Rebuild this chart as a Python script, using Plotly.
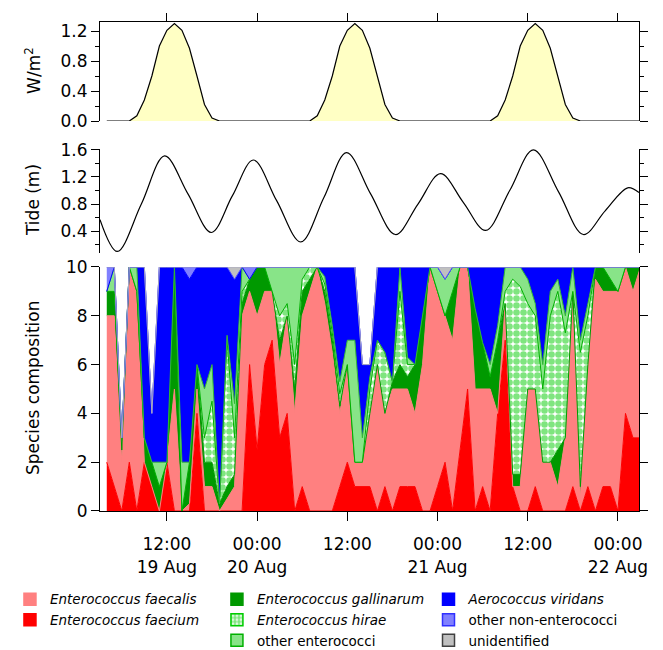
import plotly.graph_objects as go

FONT = "DejaVu Sans"

# ---------------- data ----------------
# sample times: hours since 19 Aug 00:00
hours = list(range(4, 76))

faecium = [2, 1, 0, 2, 0, 2, 1, 0, 2, 0,
           0, 0, 4, 0, 0, 0, 0, 0, 0, 6,
           2.5, 6, 7, 3, 4, 0, 1, 0, 0, 0,
           0, 1, 2, 1, 1, 1, 0, 1, 0, 1,
           1, 1, 0, 0, 1, 2, 0, 2.5, 5, 0,
           1, 0, 4, 7, 1, 0, 0, 1, 0, 0,
           0, 0, 1, 0, 1, 0, 1, 1, 0, 4,
           3, 3]
faecalis = [6, 7, 2, 8, 9, 0, 0, 0, 0, 5,
            0, 0.3, 1, 1, 1, 0, 0.5, 1, 8, 3,
            5.5, 3, 2, 3, 4, 4, 7, 9, 10, 8.5,
            6.5, 3, 4, 1, 1, 3, 6, 3, 5, 4,
            4, 3, 6, 10, 8, 6, 7, 7.5, 5, 5,
            4, 5, 0, 1.5, 0, 1, 5, 4, 2, 2,
            1, 3, 8, 0.5, 5, 9.5, 8, 8, 9, 6,
            6, 7]
gallinarum = [1, 1, 0.5, 0, 0, 1, 1, 1, 0, 5,
              0, 1.7, 1, 1, 1, 0.3, 0.5, 0.5, 0.5, 0.5,
              2, 1, 0, 1, 0, 1, 1, 0.5, 0, 0.5,
              0.5, 0.3, 0, 0, 0, 0, 0, 0, 0.3, 1,
              0.5, 2, 2, 0, 0, 0, 2, 0, 0, 3.3,
              1.9, 0.5, 3, 0, 0.5, 0.5, 0, 0, 0, 0,
              1.5, 0, 0, 0.5, 0, 0.5, 1, 0.5, 0, 0,
              1, 0]
hirae = [0, 0, 0.5, 0, 0, 0, 0, 0, 0, 0,
         0, 0, 0, 1, 2.5, 0, 6, 1.5, 0.5, 0,
         0, 0, 0, 1, 0.5, 1, 0.5, 0.5, 0, 0.3,
         0.3, 0.5, 0, 0, 0, 1, 1, 2.5, 0, 3,
         0.5, 0, 0, 0, 0, 0, 0, 0, 0, 0,
         0, 0, 0, 0.5, 8, 7.7, 3.5, 3, 3, 6,
         6.5, 4.3, 0, 5.5, 2, 0, 0, 0, 0, 0,
         0, 0]
other_entero = [0, 1, 0, 0, 1, 0, 0, 1, 0, 0,
                2, 0, 0, 2, 1.5, 0, 0.2, 1.4, 1, 0,
                0, 0, 1, 2, 1.5, 4, 0.5, 0, 0, 0.3,
                0.3, 0.5, 1, 5, 1, 0.5, 0, 0, 0, 1,
                0.3, 0, 0, 0, 1, 1.5, 1, 0, 0, 0,
                0, 0.5, 0.6, 1, 0.5, 0.8, 1, 0.5, 1, 1,
                0.5, 0.7, 1, 0.5, 0.5, 0, 0, 0.5, 1, 0,
                0, 0]
viridans = [0, 0, 0, 0, 0, 7, 2, 8, 8, 0,
            8, 7.5, 4, 5, 4, 9.7, 2.8, 5.1, 0, 0,
            0, 0, 0, 0, 0, 0, 0, 0, 0, 0.4,
            2.4, 4.7, 3, 3, 3, 0.5, 3, 3.5, 4.7, 0,
            3.7, 4, 2, 0, 0, 0, 0, 0, 0, 1.7,
            3.1, 4, 2.4, 0, 0, 0, 0.5, 1.5, 4, 1,
            0.5, 2, 0, 3, 1.5, 0, 0, 0, 0, 0,
            0, 0]
other_non_entero = [1, 0, 0, 0, 0, 0, 0, 0, 0, 0,
                    0, 0.5, 0, 0, 0, 0, 0, 0, 0, 0.5,
                    0, 0, 0, 0, 0, 0, 0, 0, 0, 0,
                    0, 0, 0, 0, 0, 0, 0, 0, 0, 0,
                    0, 0, 0, 0, 0, 0, 0, 0, 0, 0,
                    0, 0, 0, 0, 0, 0, 0, 0, 0, 0,
                    0, 0, 0, 0, 0, 0, 0, 0, 0, 0,
                    0, 0]
unidentified = [0, 0, 0, 0, 0, 0, 0, 0, 0, 0,
                0, 0, 0, 0, 0, 0, 0, 0.5, 0, 0,
                0, 0, 0, 0, 0, 0, 0, 0, 0, 0,
                0, 0, 0, 0, 0, 0, 0, 0, 0, 0,
                0, 0, 0, 0, 0, 0.5, 0, 0, 0, 0,
                0, 0, 0, 0, 0, 0, 0, 0, 0, 0,
                0, 0, 0, 0, 0, 0, 0, 0, 0, 0,
                0, 0]

light_hours = [4, 7, 8, 9, 10, 11, 12, 13, 14, 15, 16, 17, 18, 19,
               31, 32, 33, 34, 35, 36, 37, 38, 39, 40, 41, 42, 43,
               55, 56, 57, 58, 59, 60, 61, 62, 63, 64, 65, 66, 67, 74.8]
light_wm2 = [0, 0, 0.07, 0.28, 0.6, 1.0, 1.21, 1.3, 1.21, 0.97, 0.6, 0.22, 0.04, 0,
             0, 0.07, 0.28, 0.6, 1.0, 1.21, 1.3, 1.21, 0.97, 0.6, 0.22, 0.04, 0,
             0, 0.07, 0.28, 0.6, 1.0, 1.21, 1.3, 1.21, 0.97, 0.6, 0.22, 0.04, 0, 0]

tide_hours = [3.1, 5.4, 8.6, 11.7, 14.8, 17.9, 20.7, 23.5, 26.6, 29.8, 32.9, 35.9,
              39.1, 42.4, 45.4, 48.4, 51.4, 54.4, 57.6, 60.75, 64.1, 67.4, 70.3, 73.3, 74.8]
tide_m = [0.57, 0.10, 0.80, 1.51, 0.95, 0.38, 0.92, 1.45, 0.85, 0.24, 0.90, 1.56,
          0.95, 0.35, 0.80, 1.25, 0.83, 0.41, 1.00, 1.60, 0.98, 0.35, 0.70, 1.04, 0.97]

tick_hours = [12, 24, 36, 48, 60, 72]
tick_text = ["12:00<br>19 Aug", "00:00<br>20 Aug", "12:00", "00:00<br>21 Aug", "12:00", "00:00<br>22 Aug"]

X_RANGE = [3.1, 74.8]

# name, values, fill colour, line colour, pattern, legend
hirae_pattern = dict(shape=".", fgcolor="#00CC00", bgcolor="white", size=7, solidity=0.7)
species = [
    ("<i>Enterococcus faecium</i>", faecium, "#FF0000", "#FF0000", None, "legend"),
    ("<i>Enterococcus faecalis</i>", faecalis, "#FF8080", "#FF8080", None, "legend"),
    ("<i>Enterococcus gallinarum</i>", gallinarum, "#009900", "#009900", None, "legend2"),
    ("<i>Enterococcus hirae</i>", hirae, "white", "#00B000", hirae_pattern, "legend2"),
    ("other enterococci", other_entero, "#88E488", "#33B833", None, "legend2"),
    ("<i>Aerococcus viridans</i>", viridans, "#0000FF", "#0000FF", None, "legend3"),
    ("other non-enterococci", other_non_entero, "#8080FF", "#5050FF", None, "legend3"),
    ("unidentified", unidentified, "#C0C0C0", "#A8A8C0", None, "legend3"),
]

fig = go.Figure()

for name, vals, fc, lc, pat, lg in species:
    kw = {}
    if pat is not None:
        kw["fillpattern"] = pat
    fig.add_trace(go.Scatter(x=hours, y=vals, stackgroup="comp", mode="lines",
                             line=dict(color=lc, width=1), fillcolor=fc,
                             showlegend=False, xaxis="x", yaxis="y", **kw))

# legend entries (column order as in the reference)
legend_order = [1, 0, 2, 3, 4, 5, 6, 7]
legend_border = {"unidentified": "#404040", "other non-enterococci": "#3030FF",
                 "other enterococci": "#00B000", "<i>Enterococcus hirae</i>": "#00CC00"}
for i in legend_order:
    name, vals, fc, lc, pat, lg = species[i]
    mk = dict(color=fc, line=dict(color=legend_border.get(name, fc), width=1.5))
    if pat is not None:
        mk["pattern"] = dict(pat, size=5)
    fig.add_trace(go.Bar(x=[-50], y=[0], name=name, marker=mk, legend=lg,
                         showlegend=True, xaxis="x", yaxis="y"))

# light
fig.add_trace(go.Scatter(x=light_hours, y=light_wm2, mode="lines", fill="tozeroy",
                         fillcolor="#FFFFC4", line=dict(color="black", width=1.2),
                         showlegend=False, xaxis="x3", yaxis="y3"))
# tide
fig.add_trace(go.Scatter(x=tide_hours, y=tide_m, mode="lines",
                         line=dict(color="black", width=1.2, shape="spline", smoothing=1.0),
                         showlegend=False, xaxis="x2", yaxis="y2"))

tickfont = dict(family=FONT, size=17, color="black")
yax = dict(showgrid=False, zeroline=False, showline=True, linecolor="black", linewidth=1,
           ticks="outside", ticklen=8, tickwidth=1, tickcolor="black", mirror="ticks",
           tickfont=tickfont, automargin=False)

legend_common = dict(font=dict(family=FONT, size=13.5, color="black"), bgcolor="rgba(0,0,0,0)",
                     xanchor="left", yanchor="top", orientation="v", tracegroupgap=0,
                     traceorder="normal", xref="container", yref="container",
                     itemclick=False, itemdoubleclick=False)

# page body adds an 8 px offset, so the figure is 8 px smaller than the window
fig.update_layout(
    width=655, height=642,
    margin=dict(l=92, r=24, t=14, b=139, autoexpand=False),
    plot_bgcolor="white", paper_bgcolor="white",
    hovermode=False,
    xaxis=dict(domain=[0, 1], range=X_RANGE, anchor="y", tickvals=tick_hours, ticktext=tick_text,
               showgrid=False, zeroline=False, showline=True, linecolor="black", linewidth=1,
               ticks="outside", ticklen=9, tickcolor="black", tickfont=tickfont,
               ticklabelstandoff=9, automargin=False),
    yaxis=dict(domain=[0, 0.499], range=[0, 10], tickvals=[0, 2, 4, 6, 8, 10], **yax),
    xaxis2=dict(domain=[0, 1], range=X_RANGE, anchor="y2", visible=False),
    yaxis2=dict(domain=[0.5266, 0.7413], range=[0.07, 1.62], anchor="x2",
                tickvals=[0.4, 0.8, 1.2, 1.6], tickformat=".1f",
                minor=dict(tickvals=[0.2, 0.6, 1.0, 1.4], ticks="outside", ticklen=4,
                           tickcolor="black"), **yax),
    xaxis3=dict(domain=[0, 1], range=X_RANGE, anchor="y3", side="top", tickvals=tick_hours,
                showticklabels=False, showgrid=False, zeroline=False, showline=True,
                linecolor="black", linewidth=1, ticks="outside", ticklen=8, tickcolor="black",
                automargin=False),
    yaxis3=dict(domain=[0.7975, 1], range=[0, 1.32], anchor="x3",
                tickvals=[0, 0.4, 0.8, 1.2], tickformat=".1f",
                minor=dict(tickvals=[0.2, 0.6, 1.0], ticks="outside", ticklen=4,
                           tickcolor="black"), **yax),
    legend=dict(x=0.003, y=0.103, **legend_common),
    legend2=dict(x=0.319, y=0.103, **legend_common),
    legend3=dict(x=0.642, y=0.103, **legend_common),
    bargap=0,
)

title_font = dict(family=FONT, size=17, color="black")
for text, yp in [("W/m<sup>2</sup>", 0.900), ("Tide (m)", 0.636), ("Species composition", 0.2515)]:
    fig.add_annotation(text=text, xref="paper", yref="paper", x=-0.1243, y=yp,
                       textangle=-90, showarrow=False, font=title_font,
                       xanchor="center", yanchor="middle")

fig.write_html("out.html")
